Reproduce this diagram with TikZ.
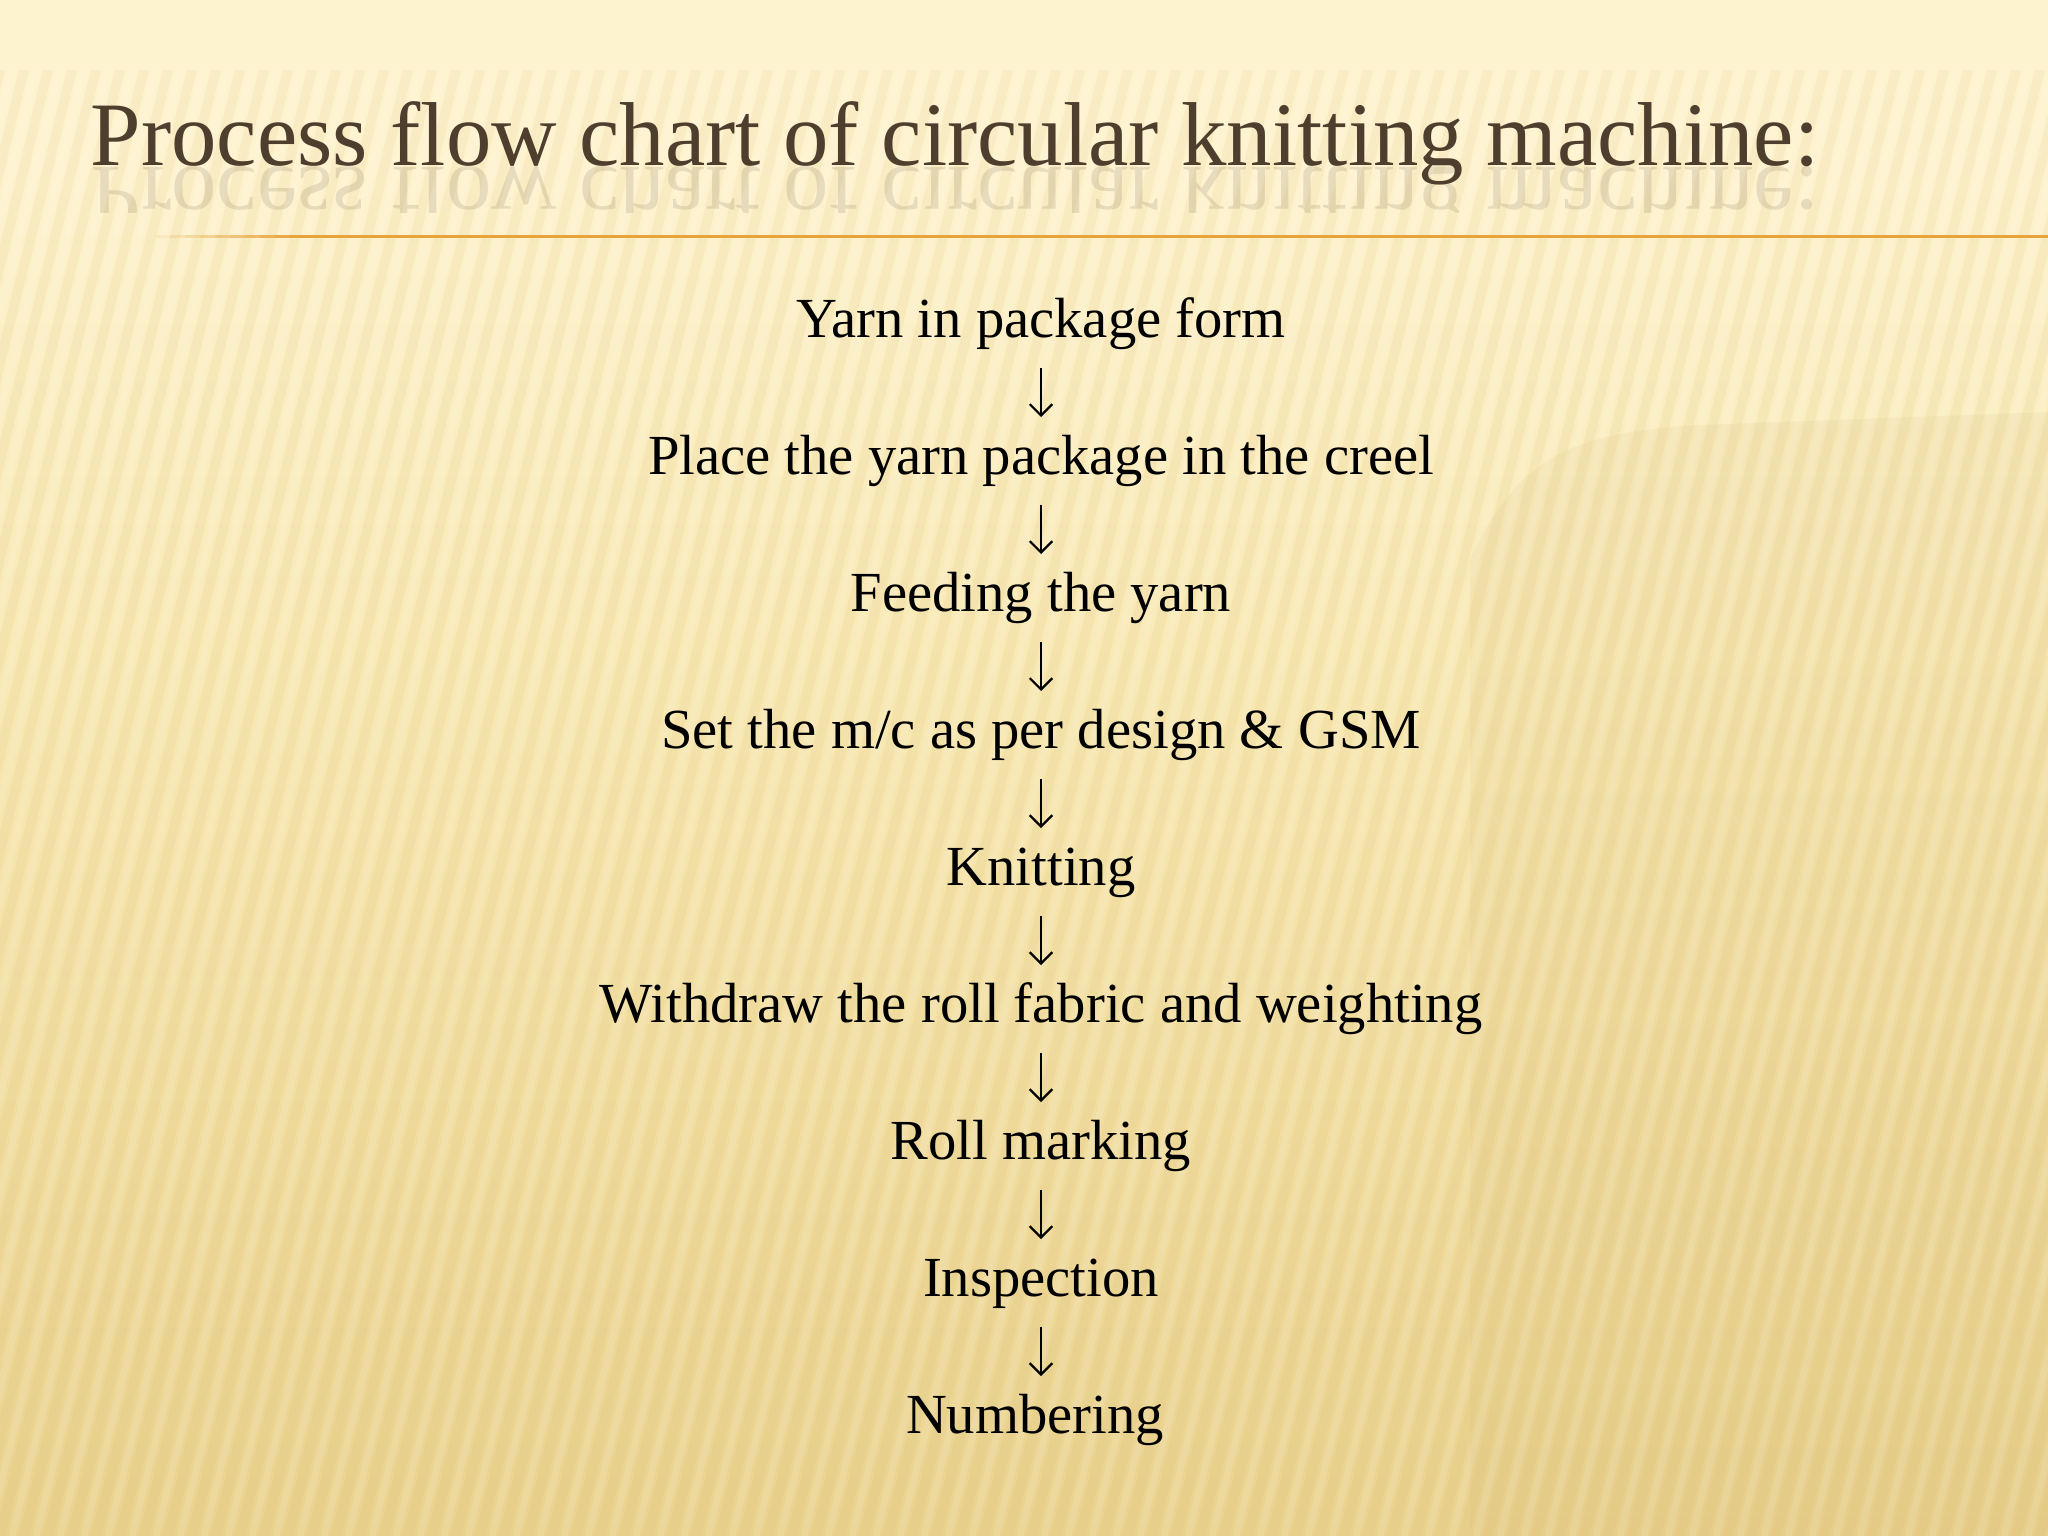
\documentclass[tikz,border=0pt]{standalone}
\usepackage{fontspec}
\setmainfont{Liberation Serif}
\usetikzlibrary{arrows.meta,calc}
\definecolor{bgtop}{RGB}{254,243,207}
\definecolor{bgmid}{RGB}{248,232,178}
\definecolor{bgbot}{RGB}{234,210,142}
\definecolor{stripedark}{RGB}{205,175,100}
\definecolor{titlecol}{RGB}{78,62,46}
\definecolor{rulecol}{RGB}{232,163,58}
\tikzset{
  titletext/.style={text=titlecol, inner sep=0pt, font=\fontsize{25.8pt}{30pt}\selectfont},
  steptext/.style={text=black, inner sep=0pt, font=\fontsize{16.1pt}{19pt}\selectfont, anchor=base},
  flow/.style={draw=black, line width=0.65pt, -{Straight Barb[length=3.2pt,width=6.4pt,line width=0.65pt]}}
}
\begin{document}
\begin{tikzpicture}[x=0.01cm, y=-0.01cm]
\useasboundingbox (0,0) rectangle (2048,1536);
% background
\fill[bgtop] (0,0) rectangle (2048,1536);
\shade[top color=bgtop, bottom color=bgmid] (0,150) rectangle (2048,700);
\shade[top color=bgmid, bottom color=bgbot] (0,699) rectangle (2048,1536);
% darker right region
\fill[stripedark, opacity=0.10] (1470,560) .. controls (1520,450) and (1580,433) .. (1700,425) -- (2048,412) -- (2048,1536) -- (1470,1536) -- cycle;
% stripes
\begin{scope}
  \clip (0,70) rectangle (2048,1536);
  \foreach \i in {-10,...,110} {
    \draw[stripedark, line width=2.8pt, opacity=0.10] (\i*24,70) -- (\i*24-360,1536);
    \draw[white, line width=2pt, opacity=0.12] (\i*24+12,70) -- (\i*24-348,1536);
  }
\end{scope}
% title with reflection
\node[titletext, anchor=base west] (title) at (90,165) {Process flow chart of circular knitting machine:};
\begin{scope}
  \clip (0,166) rectangle (2048,212);
  \node[titletext, anchor=base west, yscale=-1, opacity=0.13] (titlerefl) at (90,167) {Process flow chart of circular knitting machine:};
\end{scope}
% rule (fading in from the left)
\foreach \k in {1,...,10} {
  \fill[rulecol, opacity=\k/10] (140+15*\k,234.5) rectangle (155+15*\k,237.5);
}
\fill[rulecol] (305,234.5) rectangle (2048,237.5);
% steps
\node[steptext] (s1) at (1041,337) {Yarn in package form};
\node[steptext] (s2) at (1041,474) {Place the yarn package in the creel};
\node[steptext] (s3) at (1041,611) {Feeding the yarn};
\node[steptext] (s4) at (1041,748) {Set the m/c as per design \& GSM};
\node[steptext] (s5) at (1041,885) {Knitting};
\node[steptext] (s6) at (1041,1022) {Withdraw the roll fabric and weighting};
\node[steptext] (s7) at (1041,1159) {Roll marking};
\node[steptext] (s8) at (1041,1296) {Inspection};
\node[steptext] (s9) at (1035,1433) {Numbering};
\foreach \a/\b in {s1/s2,s2/s3,s3/s4,s4/s5,s5/s6,s6/s7,s7/s8,s8/s9} {
  \draw[flow] ($(\a.base)+(0,31)$) -- ($(\a.base |- \b.base)+(0,-57)$);
}
\end{tikzpicture}
\end{document}
